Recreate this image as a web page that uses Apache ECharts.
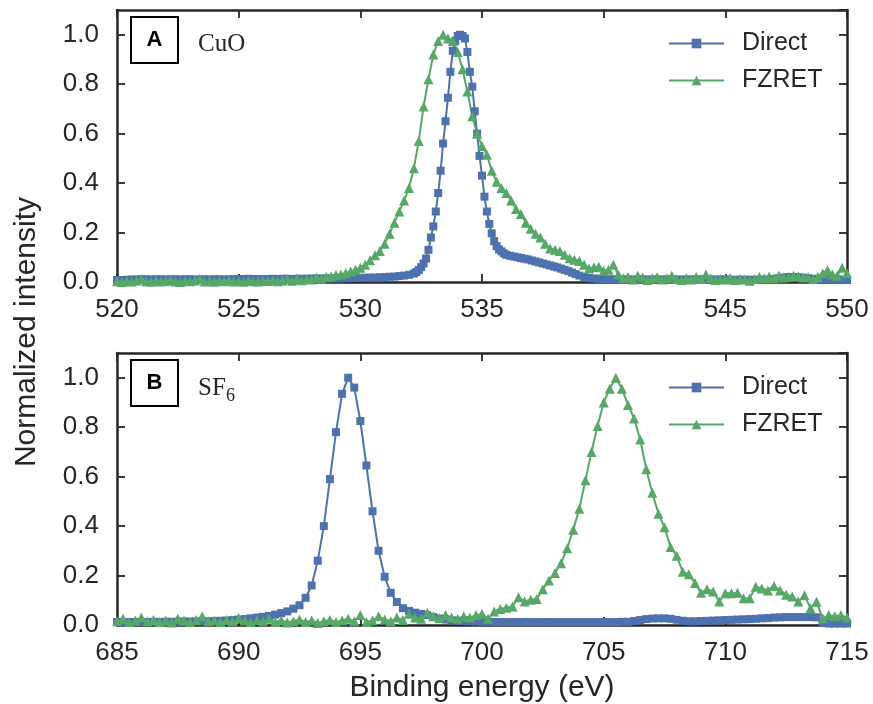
<!DOCTYPE html>
<html>
<head>
<meta charset="utf-8">
<script src="https://cdn.jsdelivr.net/npm/echarts@6/dist/echarts.min.js"></script>
<style>
html,body{margin:0;padding:0;background:#fff;}
#chart{width:873px;height:704px;}
</style>
</head>
<body>
<div id="chart"></div>
<script>
// ---------------- DATA ----------------
const rangeA = [520, 550];
const rangeB = [685, 715];
const yRange = [0, 1.1];
const seriesNames = ['Direct', 'FZRET'];
const panelLabels = ['A', 'B'];
const sampleA = 'CuO';
const sampleB = ['SF', '6'];
const xTitle = 'Binding energy (eV)';
const yTitle = 'Normalized intensity';

// Panel A (CuO) - Direct
const directA = [
[520.0,0.008],[520.2,0.008],[520.4,0.009],[520.6,0.010],[520.8,0.010],[521.0,0.011],[521.2,0.011],[521.4,0.010],[521.6,0.011],[521.8,0.011],
[522.0,0.010],[522.2,0.011],[522.4,0.011],[522.6,0.010],[522.8,0.011],[523.0,0.011],[523.2,0.010],[523.4,0.010],[523.6,0.011],[523.8,0.010],
[524.0,0.011],[524.2,0.011],[524.4,0.010],[524.6,0.011],[524.8,0.011],[525.0,0.012],[525.2,0.012],[525.4,0.013],[525.6,0.012],[525.8,0.012],
[526.0,0.012],[526.2,0.012],[526.4,0.013],[526.6,0.012],[526.8,0.013],[527.0,0.013],[527.2,0.012],[527.4,0.013],[527.6,0.013],[527.8,0.013],
[528.0,0.014],[528.2,0.014],[528.4,0.014],[528.6,0.014],[528.8,0.015],[529.0,0.015],[529.2,0.015],[529.4,0.016],[529.6,0.016],[529.8,0.016],
[530.0,0.017],[530.2,0.017],[530.4,0.018],[530.6,0.018],[530.8,0.019],[531.0,0.020],[531.2,0.021],[531.4,0.022],[531.6,0.024],[531.8,0.026],
[532.0,0.029],[532.2,0.034],[532.3,0.040],[532.4,0.048],[532.5,0.060],[532.6,0.075],[532.7,0.095],[532.8,0.130],[532.9,0.180],
[533.0,0.225],[533.1,0.285],[533.2,0.360],[533.3,0.450],[533.4,0.560],[533.5,0.650],[533.6,0.745],[533.7,0.850],[533.8,0.935],[533.9,0.975],
[534.0,0.995],[534.1,1.000],[534.2,0.995],[534.3,0.985],[534.4,0.930],[534.5,0.850],[534.6,0.790],[534.7,0.690],[534.8,0.600],[534.9,0.510],
[535.0,0.430],[535.1,0.345],[535.2,0.285],[535.3,0.235],[535.4,0.197],[535.5,0.165],[535.6,0.145],[535.7,0.132],[535.8,0.124],[535.9,0.116],
[536.0,0.110],[536.15,0.106],[536.3,0.103],[536.45,0.100],[536.6,0.097],[536.75,0.094],[536.9,0.091],[537.05,0.087],[537.2,0.083],[537.35,0.079],
[537.5,0.075],[537.65,0.071],[537.8,0.067],[537.95,0.063],[538.1,0.059],[538.25,0.054],[538.4,0.049],[538.55,0.044],[538.7,0.038],[538.85,0.032],
[539.0,0.026],[539.2,0.020],[539.4,0.016],[539.6,0.014],[539.8,0.013],[540.0,0.012],[540.2,0.011],[540.4,0.011],[540.6,0.010],[540.8,0.010],
[541.0,0.010],[541.2,0.010],[541.4,0.010],[541.6,0.010],[541.8,0.010],[542.0,0.010],[542.2,0.010],[542.4,0.010],[542.6,0.010],[542.8,0.010],
[543.0,0.010],[543.2,0.010],[543.4,0.010],[543.6,0.010],[543.8,0.010],[544.0,0.010],[544.2,0.010],[544.4,0.010],[544.6,0.010],[544.8,0.010],
[545.0,0.010],[545.2,0.009],[545.4,0.009],[545.6,0.009],[545.8,0.009],[546.0,0.009],[546.2,0.009],[546.4,0.009],[546.6,0.009],[546.8,0.010],
[547.0,0.012],[547.2,0.015],[547.4,0.018],[547.6,0.020],[547.8,0.020],[548.0,0.019],[548.2,0.017],[548.4,0.015],[548.6,0.013],[548.8,0.012],
[549.0,0.011],[549.2,0.011],[549.4,0.010],[549.6,0.010],[549.8,0.009],[550.0,0.008]
];

// Panel A (CuO) - FZRET
const fzretA = [
[520.0,0.003],[520.2,0.000],[520.4,0.004],[520.6,0.002],[520.8,0.006],[521.0,0.012],[521.2,0.003],[521.4,0.001],[521.6,0.005],[521.8,0.002],
[522.0,0.004],[522.2,0.008],[522.4,0.002],[522.6,0.000],[522.8,0.005],[523.0,0.003],[523.2,0.006],[523.4,0.012],[523.6,0.002],[523.8,0.004],
[524.0,0.001],[524.2,0.005],[524.4,0.003],[524.6,0.007],[524.8,0.002],[525.0,0.004],[525.2,0.001],[525.4,0.006],[525.6,0.003],[525.8,0.002],
[526.0,0.005],[526.2,0.004],[526.4,0.008],[526.6,0.003],[526.8,0.006],[527.0,0.012],[527.2,0.005],[527.4,0.015],[527.6,0.007],[527.8,0.012],
[528.0,0.010],[528.2,0.018],[528.4,0.013],[528.6,0.020],[528.8,0.022],[529.0,0.028],[529.2,0.030],[529.4,0.036],[529.6,0.042],[529.8,0.050],
[530.0,0.058],[530.2,0.070],[530.4,0.088],[530.6,0.108],[530.8,0.125],[531.0,0.155],[531.2,0.195],[531.4,0.240],[531.6,0.285],[531.8,0.330],
[532.0,0.380],[532.2,0.460],[532.4,0.570],[532.6,0.710],[532.8,0.820],[533.0,0.920],[533.2,0.975],[533.4,1.000],[533.6,0.985],[533.8,0.975],
[534.0,0.930],[534.2,0.860],[534.4,0.770],[534.6,0.670],[534.8,0.600],[535.0,0.550],[535.2,0.515],[535.4,0.450],[535.6,0.405],[535.8,0.380],
[536.0,0.360],[536.2,0.330],[536.4,0.295],[536.6,0.275],[536.8,0.240],[537.0,0.215],[537.2,0.195],[537.4,0.180],[537.6,0.155],[537.8,0.135],
[538.0,0.130],[538.2,0.125],[538.4,0.110],[538.6,0.096],[538.8,0.090],[539.0,0.085],[539.2,0.070],[539.4,0.055],[539.6,0.060],[539.8,0.062],
[540.0,0.045],[540.2,0.050],[540.4,0.070],[540.6,0.030],[540.8,0.015],[541.0,0.020],[541.2,0.010],[541.4,0.025],[541.6,0.018],[541.8,0.008],
[542.0,0.015],[542.2,0.020],[542.4,0.010],[542.6,0.015],[542.8,0.025],[543.0,0.012],[543.2,0.008],[543.4,0.015],[543.6,0.010],[543.8,0.020],
[544.0,0.012],[544.2,0.030],[544.4,0.015],[544.6,0.008],[544.8,0.012],[545.0,0.010],[545.2,0.015],[545.4,0.008],[545.6,0.012],[545.8,0.010],
[546.0,0.005],[546.2,0.012],[546.4,0.020],[546.6,0.015],[546.8,0.022],[547.0,0.015],[547.2,0.025],[547.4,0.018],[547.6,0.020],[547.8,0.025],
[548.0,0.022],[548.2,0.018],[548.4,0.020],[548.6,0.012],[548.8,0.020],[549.0,0.035],[549.2,0.048],[549.4,0.030],[549.6,0.025],[549.8,0.058],
[550.0,0.035]
];

// Panel B (SF6) - Direct
const directB = [
[685.0,0.012],[685.25,0.011],[685.5,0.012],[685.75,0.012],[686.0,0.012],[686.25,0.012],[686.5,0.013],[686.75,0.012],[687.0,0.013],[687.25,0.013],
[687.5,0.013],[687.75,0.014],[688.0,0.014],[688.25,0.014],[688.5,0.015],[688.75,0.015],[689.0,0.016],[689.25,0.017],[689.5,0.018],[689.75,0.020],
[690.0,0.022],[690.25,0.024],[690.5,0.027],[690.75,0.030],[691.0,0.033],[691.25,0.037],[691.5,0.042],[691.75,0.048],[692.0,0.055],[692.25,0.066],
[692.5,0.080],[692.75,0.110],[693.0,0.160],[693.25,0.260],[693.5,0.400],[693.75,0.590],[694.0,0.780],[694.25,0.935],[694.5,1.000],[694.75,0.960],
[695.0,0.825],[695.25,0.645],[695.5,0.460],[695.75,0.300],[696.0,0.195],[696.25,0.130],[696.5,0.093],[696.75,0.068],[697.0,0.057],[697.25,0.050],
[697.5,0.045],[697.75,0.040],[698.0,0.032],[698.25,0.026],[698.5,0.022],[698.75,0.019],[699.0,0.017],[699.25,0.016],[699.5,0.015],[699.75,0.014],
[700.0,0.013],[700.25,0.013],[700.5,0.012],[700.75,0.012],[701.0,0.012],[701.25,0.012],[701.5,0.012],[701.75,0.012],[702.0,0.012],[702.25,0.012],
[702.5,0.012],[702.75,0.012],[703.0,0.012],[703.25,0.012],[703.5,0.012],[703.75,0.012],[704.0,0.012],[704.25,0.012],[704.5,0.012],[704.75,0.012],
[705.0,0.012],[705.25,0.012],[705.5,0.012],[705.75,0.013],[706.0,0.013],[706.25,0.016],[706.5,0.020],[706.75,0.024],[707.0,0.026],[707.25,0.027],
[707.5,0.027],[707.75,0.025],[708.0,0.021],[708.25,0.017],[708.5,0.015],[708.75,0.015],[709.0,0.016],[709.25,0.017],[709.5,0.018],[709.75,0.019],
[710.0,0.020],[710.25,0.021],[710.5,0.022],[710.75,0.023],[711.0,0.024],[711.25,0.025],[711.5,0.027],[711.75,0.028],[712.0,0.030],[712.25,0.031],
[712.5,0.032],[712.75,0.032],[713.0,0.032],[713.25,0.032],[713.5,0.032],[713.75,0.031],[714.0,0.010],[714.25,0.006],[714.5,0.006],[714.75,0.006],
[715.0,0.006]
];

// Panel B (SF6) - FZRET
const fzretB = [
[685.0,0.015],[685.25,0.025],[685.5,0.012],[685.75,0.018],[686.0,0.030],[686.25,0.015],[686.5,0.020],[686.75,0.012],[687.0,0.018],[687.25,0.010],
[687.5,0.025],[687.75,0.018],[688.0,0.012],[688.25,0.020],[688.5,0.035],[688.75,0.015],[689.0,0.018],[689.25,0.012],[689.5,0.020],[689.75,0.015],
[690.0,0.028],[690.25,0.018],[690.5,0.012],[690.75,0.020],[691.0,0.015],[691.25,0.025],[691.5,0.012],[691.75,0.018],[692.0,0.010],[692.25,0.015],
[692.5,0.022],[692.75,0.012],[693.0,0.018],[693.25,0.008],[693.5,0.015],[693.75,0.020],[694.0,0.012],[694.25,0.018],[694.5,0.025],[694.75,0.015],
[695.0,0.040],[695.25,0.012],[695.5,0.018],[695.75,0.035],[696.0,0.022],[696.25,0.015],[696.5,0.030],[696.75,0.020],[697.0,0.045],[697.25,0.030],
[697.5,0.025],[697.75,0.050],[698.0,0.035],[698.25,0.028],[698.5,0.040],[698.75,0.030],[699.0,0.025],[699.25,0.035],[699.5,0.030],[699.75,0.040],
[700.0,0.045],[700.25,0.025],[700.5,0.055],[700.75,0.065],[701.0,0.070],[701.25,0.075],[701.5,0.112],[701.75,0.095],[702.0,0.102],[702.25,0.105],
[702.5,0.145],[702.75,0.180],[703.0,0.210],[703.25,0.250],[703.5,0.310],[703.75,0.385],[704.0,0.470],[704.25,0.585],[704.5,0.700],[704.75,0.805],
[705.0,0.900],[705.25,0.955],[705.5,1.000],[705.75,0.955],[706.0,0.890],[706.25,0.835],[706.5,0.750],[706.75,0.630],[707.0,0.535],[707.25,0.450],
[707.5,0.395],[707.75,0.315],[708.0,0.280],[708.25,0.215],[708.5,0.205],[708.75,0.170],[709.0,0.130],[709.25,0.145],[709.5,0.135],[709.75,0.095],
[710.0,0.128],[710.25,0.128],[710.5,0.130],[710.75,0.108],[711.0,0.108],[711.25,0.155],[711.5,0.148],[711.75,0.140],[712.0,0.158],[712.25,0.140],
[712.5,0.122],[712.75,0.115],[713.0,0.095],[713.25,0.120],[713.5,0.068],[713.75,0.094],[714.0,0.027],[714.25,0.040],[714.5,0.035],[714.75,0.040],
[715.0,0.030]
];

// ---------------- STYLE ----------------
const BLUE = '#4C72B0';
const GREEN = '#55A868';
const DARK = '#262626';
const SANS = '"Liberation Sans", Arial, sans-serif';
const SERIF = '"Liberation Serif", "Times New Roman", serif';

const chart = echarts.init(document.getElementById('chart'), null, {renderer: 'canvas'});

const gridL = 117, gridR = 26, gridH = 272;
const grids = [
  {left: gridL, right: gridR, top: 10, height: gridH},
  {left: gridL, right: gridR, top: 353, height: gridH}
];

function xAx(gi, range, pos, labels) {
  return {
    type: 'value', gridIndex: gi, position: pos, min: range[0], max: range[1], interval: 5,
    axisLine: {show: true, onZero: false, lineStyle: {color: DARK, width: 2.5}},
    axisTick: {show: true, inside: true, length: 8, lineStyle: {color: DARK, width: 1.8}},
    axisLabel: {show: labels, color: DARK, fontSize: 26, fontFamily: SANS, margin: 15},
    splitLine: {show: false}
  };
}
function yAx(gi, pos, labels) {
  return {
    type: 'value', gridIndex: gi, position: pos, min: yRange[0], max: yRange[1], interval: 0.2,
    axisLine: {show: true, onZero: false, lineStyle: {color: DARK, width: 2.5}},
    axisTick: {show: true, inside: true, length: 8, lineStyle: {color: DARK, width: 1.8}},
    axisLabel: {show: labels, color: DARK, fontSize: 26, fontFamily: SANS, margin: 18,
      showMaxLabel: false, formatter: v => (v > 1.05 ? '' : v.toFixed(1))},
    splitLine: {show: false}
  };
}

function lineSeries(name, data, xi, yi, color, symbol, size) {
  return {
    name: name, type: 'line', data: data, xAxisIndex: xi, yAxisIndex: yi,
    symbol: symbol, symbolSize: size, showAllSymbol: true,
    lineStyle: {color: color, width: 2}, itemStyle: {color: color},
    emphasis: {disabled: true}, silent: true, clip: true
  };
}

function legendAt(top) {
  return {
    data: seriesNames, orient: 'vertical', left: 668, top: top, padding: 0,
    itemWidth: 55, itemHeight: 12, itemGap: 12,
    textStyle: {color: DARK, fontSize: 25, fontFamily: SANS, padding: [0, 0, 0, 13]},
    selectedMode: false
  };
}

function panelBox(y, label) {
  return [
    {type: 'rect', shape: {x: 131, y: y, width: 47, height: 46},
      style: {fill: '#fff', stroke: '#000', lineWidth: 2}, z: 100},
    {type: 'text', x: 154.5, y: y + 23, z: 101,
      style: {text: label, fill: '#000', font: 'bold 22px ' + SANS, align: 'center', verticalAlign: 'middle'}}
  ];
}

const option = {
  animation: false,
  backgroundColor: '#fff',
  grid: grids,
  xAxis: [xAx(0, rangeA, 'bottom', true), xAx(0, rangeA, 'top', false),
          xAx(1, rangeB, 'bottom', true), xAx(1, rangeB, 'top', false)],
  yAxis: [yAx(0, 'left', true), yAx(0, 'right', false),
          yAx(1, 'left', true), yAx(1, 'right', false)],
  legend: [legendAt(31), legendAt(375)],
  series: [
    lineSeries(seriesNames[0], directA, 0, 0, BLUE, 'rect', 8),
    lineSeries(seriesNames[1], fzretA, 0, 0, GREEN, 'triangle', 10),
    lineSeries(seriesNames[0], directB, 2, 2, BLUE, 'rect', 8),
    lineSeries(seriesNames[1], fzretB, 2, 2, GREEN, 'triangle', 10)
  ],
  graphic: [].concat(
    panelBox(17, panelLabels[0]),
    panelBox(360, panelLabels[1]),
    [
      {type: 'text', x: 198, y: 44, style: {text: sampleA, fill: DARK, font: '25px ' + SERIF, align: 'left', verticalAlign: 'middle'}},
      {type: 'text', x: 198, y: 388, style: {text: sampleB[0], fill: DARK, font: '25px ' + SERIF, align: 'left', verticalAlign: 'middle'}},
      {type: 'text', x: 226, y: 396, style: {text: sampleB[1], fill: DARK, font: '18px ' + SERIF, align: 'left', verticalAlign: 'middle'}},
      {type: 'text', x: 482, y: 688, style: {text: xTitle, fill: DARK, font: '30px ' + SANS, align: 'center', verticalAlign: 'middle'}},
      {type: 'text', x: 27, y: 332, rotation: Math.PI / 2, style: {text: yTitle, fill: DARK, font: '30px ' + SANS, align: 'center', verticalAlign: 'middle'}}
    ]
  )
};
chart.setOption(option);
</script>
</body>
</html>
